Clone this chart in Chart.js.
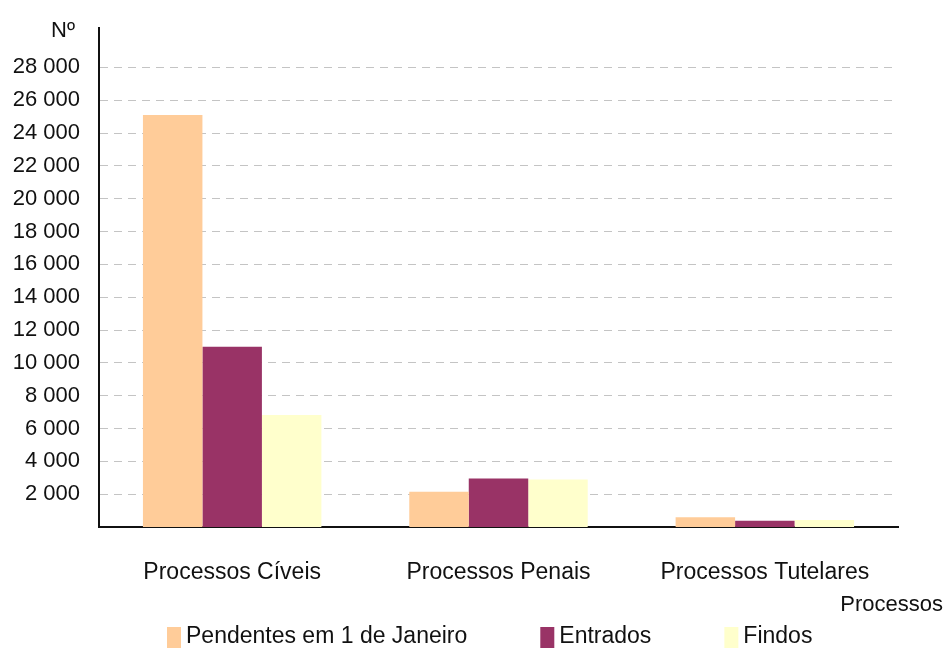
<!DOCTYPE html>
<html>
<head>
<meta charset="utf-8">
<script src="https://cdn.jsdelivr.net/npm/chart.js@4"></script>
<style>
  html, body { margin: 0; padding: 0; background: #fff; }
  #wrap { width: 945px; height: 652px; }
</style>
</head>
<body>
<div id="wrap"><canvas id="chart"></canvas></div>
<script>
const categories = ["Processos Cíveis", "Processos Penais", "Processos Tutelares"];
const pendentes = [25100, 2150, 600];
const entrados = [10980, 2950, 380];
const findos = [6820, 2900, 430];
const seriesNames = ["Pendentes em 1 de Janeiro", "Entrados", "Findos"];
const seriesColors = ["#FFCC99", "#993366", "#FFFFCC"];
const yTicks = [2000, 4000, 6000, 8000, 10000, 12000, 14000, 16000, 18000, 20000, 22000, 24000, 26000, 28000];

const font = "'Liberation Sans', Arial, sans-serif";

// unit label, axis name and the legend row under the chart
const extraText = {
  id: "extraText",
  afterDraw(chart) {
    const c = chart.ctx;
    c.save();
    c.fillStyle = "#111";
    c.font = "22px " + font;
    c.textAlign = "right";
    c.textBaseline = "alphabetic";
    c.fillText("Nº", 75, 37);
    c.textBaseline = "middle";
    c.fillText("Processos", 943, 605);

    c.font = "23px " + font;
    c.textAlign = "left";
    let x = 167;
    seriesNames.forEach((name, i) => {
      c.fillStyle = seriesColors[i];
      c.fillRect(x, 627, 14, 21);
      c.fillStyle = "#111";
      c.fillText(name, x + 19, 637);
      x += 19 + c.measureText(name).width + 73;
    });
    c.restore();
  }
};

new Chart(document.getElementById("chart").getContext("2d"), {
  type: "bar",
  data: {
    labels: categories,
    datasets: [pendentes, entrados, findos].map((d, i) => ({
      label: seriesNames[i],
      data: d,
      backgroundColor: seriesColors[i],
      borderWidth: 0,
      barPercentage: 1,
      categoryPercentage: 0.67,
    })),
  },
  options: {
    responsive: true,
    maintainAspectRatio: false,
    animation: false,
    layout: { padding: { left: 12, right: 47, top: 28, bottom: 65 } },
    plugins: {
      tooltip: { enabled: false },
      legend: { display: false },
    },
    scales: {
      x: {
        grid: { display: false, drawTicks: false },
        border: { display: true, color: "#111", width: 2 },
        ticks: { color: "#111", font: { family: font, size: 23 }, padding: 32 },
        afterFit: (s) => { s.height = 60; },
      },
      y: {
        min: 0,
        max: 30400,
        afterBuildTicks: (s) => { s.ticks = yTicks.map((v) => ({ value: v })); },
        afterFit: (s) => { s.width = 87; s.paddingTop = 0; },
        grid: { color: "#c4c4c4", lineWidth: 1, drawTicks: false },
        border: { display: true, color: "#111", width: 2, dash: [8, 6] },
        ticks: {
          color: "#111",
          font: { family: font, size: 22 },
          padding: 19,
          callback: (v) => v.toLocaleString("en-US").replace(",", " "),
        },
      },
    },
  },
  plugins: [extraText],
});
</script>
</body>
</html>
